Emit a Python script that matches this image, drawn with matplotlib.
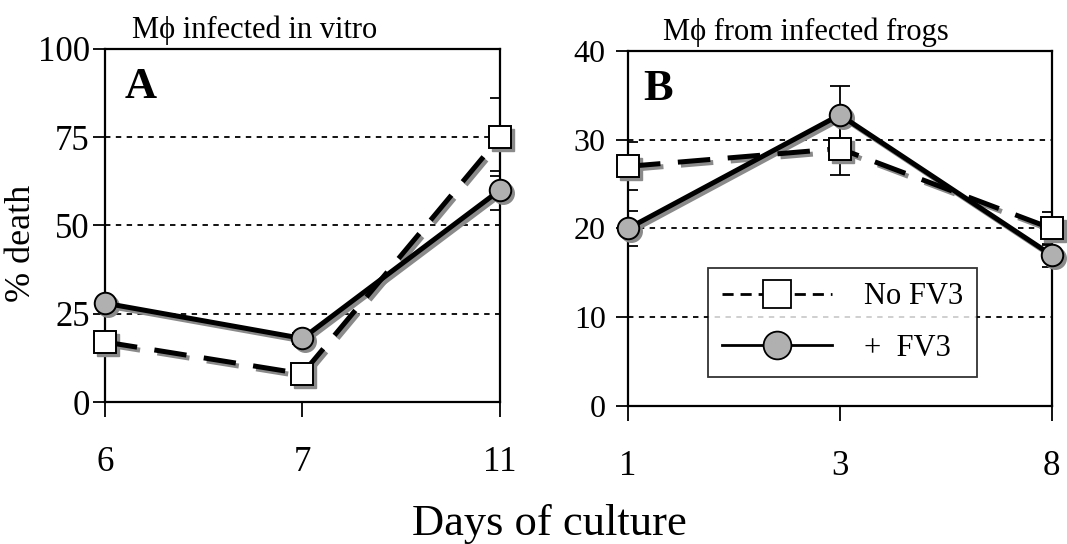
import matplotlib
matplotlib.use("Agg")
import matplotlib.pyplot as plt
import matplotlib.transforms as mtransforms
from matplotlib.lines import Line2D
import numpy as np

plt.rcParams['font.family'] = ['Liberation Serif', 'DejaVu Serif']

# panel A: macrophages infected in vitro
days_a = ['6', '7', '11']
a_no_fv3 = [17, 8, 75]
a_no_fv3_err = [1.5, 1.5, 11]
a_fv3 = [28, 18, 60]
a_fv3_err = [1.5, 1.5, 5.5]

# panel B: macrophages from infected frogs
days_b = ['1', '3', '8']
b_no_fv3 = [27, 29, 20]
b_no_fv3_err = [2.7, 3.0, 1.9]
b_fv3 = [20, 32.8, 17]
b_fv3_err = [2.0, 3.3, 1.3]

SHADOW = '#8a8a8a'
DASH = (0, (6.5, 3.5))


def draw_series(ax, fig, x, y, err, style, marker, face, ms):
    shadow = mtransforms.offset_copy(ax.transData, fig=fig, x=3, y=-3, units='dots')
    ax.errorbar(x, y, yerr=err, fmt='none', ecolor='black', elinewidth=1.3,
                capsize=7, capthick=1.3, zorder=3)
    ax.plot(x, y, linestyle=style, color=SHADOW, lw=3.6, marker=marker, ms=ms,
            mfc=SHADOW, mec=SHADOW, transform=shadow, zorder=4, clip_on=False)
    ax.plot(x, y, linestyle=style, color='black', lw=3.6, marker=marker, ms=ms,
            mfc=face, mec='black', mew=1.4, zorder=5, clip_on=False)


def style_axes(ax, yticks, ylabsize, ypad):
    ax.set_xlim(0, 2)
    ax.set_ylim(yticks[0], yticks[-1])
    ax.set_yticks(yticks)
    for v in yticks[1:-1]:
        ax.axhline(v, color='black', lw=1.3, linestyle=(0, (3, 3)), zorder=1)
    ax.tick_params(axis='y', direction='out', length=9, width=1.3,
                   labelsize=ylabsize, pad=ypad)
    ax.tick_params(axis='x', direction='out', length=11, width=1.3,
                   labelsize=25, pad=21)
    for sp in ax.spines.values():
        sp.set_linewidth(1.6)


fig = plt.figure(figsize=(10.67, 5.44), dpi=100)
ax_a = fig.add_axes([0.0984, 0.261, 0.370, 0.649])
ax_b = fig.add_axes([0.5886, 0.2537, 0.397, 0.6526])

xa = np.arange(len(days_a))
style_axes(ax_a, [0, 25, 50, 75, 100], 25, 2)
draw_series(ax_a, fig, xa, a_no_fv3, a_no_fv3_err, DASH, 's', 'white', 16.5)
draw_series(ax_a, fig, xa, a_fv3, a_fv3_err, '-', 'o', '#b0b0b0', 15.5)
ax_a.set_xticks(xa)
ax_a.set_xticklabels(days_a)
ax_a.set_ylabel('% death', fontsize=26)
ax_a.yaxis.set_label_coords(-0.17, 0.45)
ax_a.set_title('M\u03d5 infected in vitro', fontsize=22, pad=8, x=0.38)
ax_a.text(0.05, 0.95, 'A', transform=ax_a.transAxes, fontsize=32,
          fontweight='bold', va='top', ha='left', zorder=6)

xb = np.arange(len(days_b))
style_axes(ax_b, [0, 10, 20, 30, 40], 23, 7)
draw_series(ax_b, fig, xb, b_no_fv3, b_no_fv3_err, DASH, 's', 'white', 16.5)
draw_series(ax_b, fig, xb, b_fv3, b_fv3_err, '-', 'o', '#b0b0b0', 15.5)
ax_b.set_xticks(xb)
ax_b.set_xticklabels(days_b)
ax_b.set_title('M\u03d5 from infected frogs', fontsize=22, pad=8, x=0.42)
ax_b.text(0.035, 0.95, 'B', transform=ax_b.transAxes, fontsize=32,
          fontweight='bold', va='top', ha='left', zorder=6)

handles = [
    Line2D([], [], color='black', lw=2, linestyle=(0, (4, 2.5)), marker='s',
           ms=20, mfc='white', mec='black', mew=1.3),
    Line2D([], [], color='black', lw=2, linestyle='-', marker='o',
           ms=20, mfc='#b0b0b0', mec='black', mew=1.3),
]
leg = ax_b.legend(handles, ['No FV3', '+  FV3'], loc='lower left',
                  bbox_to_anchor=(0.189, 0.082), borderaxespad=0, fontsize=22,
                  frameon=True, fancybox=False, edgecolor='black',
                  handlelength=3.6, handletextpad=1.05, labelspacing=0.75,
                  borderpad=0.45)
leg.get_frame().set_linewidth(1.3)
leg.set_zorder(7)

fig.text(0.515, 0.0165, 'Days of culture', fontsize=32, ha='center', va='baseline')

fig.savefig('out.png', dpi=100)
